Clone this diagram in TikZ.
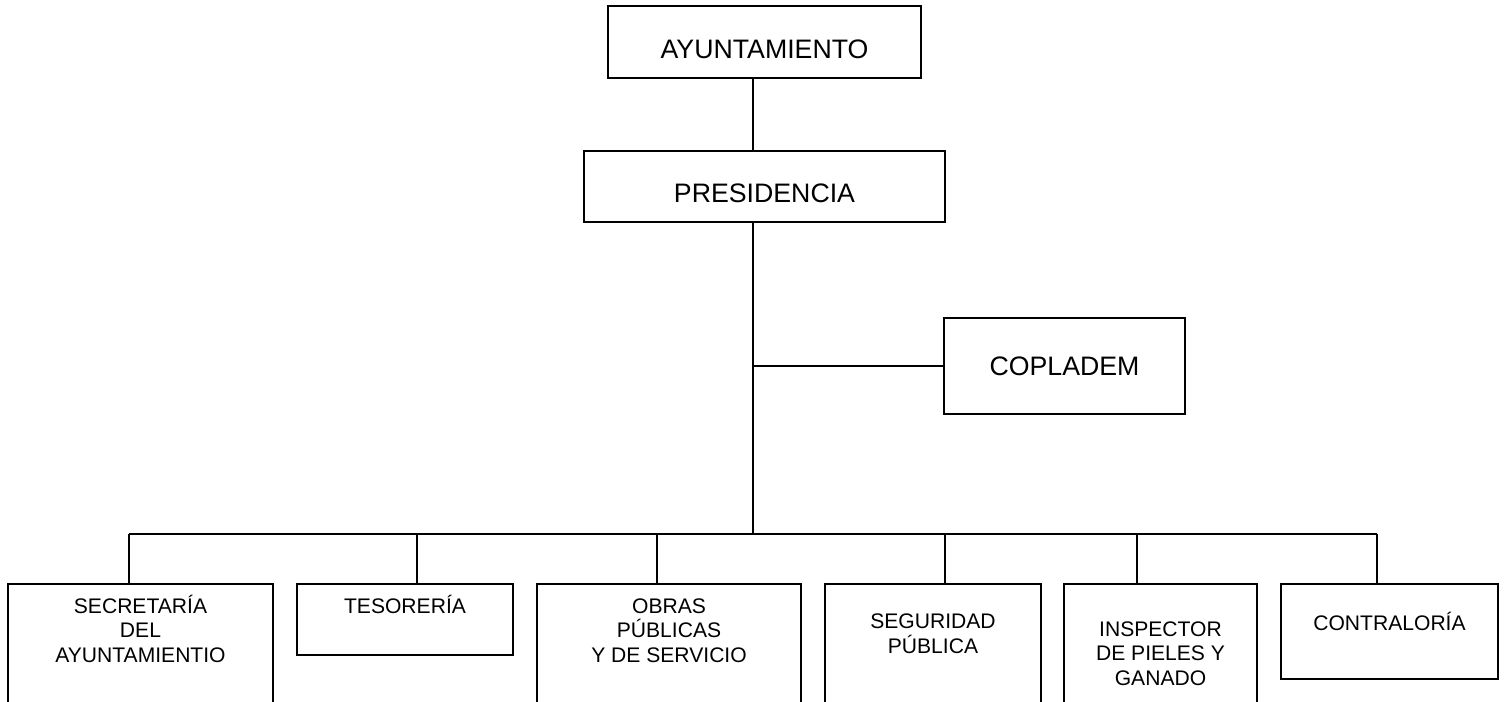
\documentclass[tikz,border=0pt]{standalone}
\usepackage{fontspec}
\setmainfont{Liberation Sans}
\usetikzlibrary{positioning}
\tikzset{
office/.style={ % Sets the properties for the upper boxes
draw,
line width=1.1pt,
inner sep=0pt,
font=\fontsize{15.2}{17}\selectfont},
headshift/.style={ % Text sits a little low in the top boxes
text height=0.66cm,
text depth=0pt},
unit/.style={ % Sets the properties for the lower boxes
draw,
line width=1.1pt,
inner sep=0pt,
anchor=north},
unittext/.style={ % Text of the lower boxes, placed by its last line
anchor=base,
align=center,
inner sep=0pt,
font=\fontsize{12}{13.9}\selectfont},
link/.style={ % Sets the properties for each connector
draw,
line width=1.1pt}}

\begin{document}
\begin{tikzpicture}
	\useasboundingbox (0,0) rectangle (30.14,-14.04);
	\clip (0,0) rectangle (30.14,-14.04);
	% upper part
	\node[office, headshift, minimum width=6.26cm, minimum height=1.44cm] (ayun) at (15.29,-0.84) {AYUNTAMIENTO};
	\node[office, headshift, minimum width=7.22cm, minimum height=1.42cm] (pres) at (15.29,-3.73) {PRESIDENCIA};
	\node[office, minimum width=4.82cm, minimum height=1.92cm] (cop) at (21.29,-7.32) {COPLADEM};
	\coordinate (hub) at (15.06,-10.68);
	\draw[link] (ayun.south -| hub) -- (pres.north -| hub);
	\draw[link] (pres.south -| hub) -- (hub);
	\draw[link] (cop.west -| hub) -- (cop.west);
	% lower boxes
	\node[unit, minimum width=5.30cm, minimum height=2.60cm] (sec) at (2.81,-11.66) {};
	\node[unit, minimum width=4.32cm, minimum height=1.42cm] (tes) at (8.10,-11.66) {};
	\node[unit, minimum width=5.28cm, minimum height=2.60cm] (obr) at (13.38,-11.66) {};
	\node[unit, minimum width=4.32cm, minimum height=2.60cm] (seg) at (18.66,-11.66) {};
	\node[unit, minimum width=3.86cm, minimum height=2.60cm] (ins) at (23.21,-11.66) {};
	\node[unit, minimum width=4.34cm, minimum height=1.90cm] (con) at (27.79,-11.66) {};
	\node[unittext] (sectext) at ([yshift=-1.58cm]sec.north) {SECRETARÍA\\DEL\\AYUNTAMIENTIO};
	\node[unittext] (testext) at ([yshift=-0.60cm]tes.north) {TESORERÍA};
	\node[unittext] (obrtext) at ([yshift=-1.58cm]obr.north) {OBRAS\\PÚBLICAS\\Y DE SERVICIO};
	\node[unittext] (segtext) at ([yshift=-1.40cm]seg.north) {SEGURIDAD\\PÚBLICA};
	\node[unittext] (instext) at ([yshift=-2.04cm]ins.north) {INSPECTOR\\DE PIELES Y\\GANADO};
	\node[unittext] (context) at ([yshift=-0.94cm]con.north) {CONTRALORÍA};
	% bus and drops
	\coordinate (d1) at (2.58,-10.68);
	\coordinate (d2) at (8.34,-10.68);
	\coordinate (d3) at (13.14,-10.68);
	\coordinate (d4) at (18.90,-10.68);
	\coordinate (d5) at (22.74,-10.68);
	\coordinate (d6) at (27.54,-10.68);
	\draw[link] (d1) -- (d6);
	\draw[link] (d1) -- (d1 |- sec.north);
	\draw[link] (d2) -- (d2 |- tes.north);
	\draw[link] (d3) -- (d3 |- obr.north);
	\draw[link] (d4) -- (d4 |- seg.north);
	\draw[link] (d5) -- (d5 |- ins.north);
	\draw[link] (d6) -- (d6 |- con.north);
\end{tikzpicture}
\end{document}
